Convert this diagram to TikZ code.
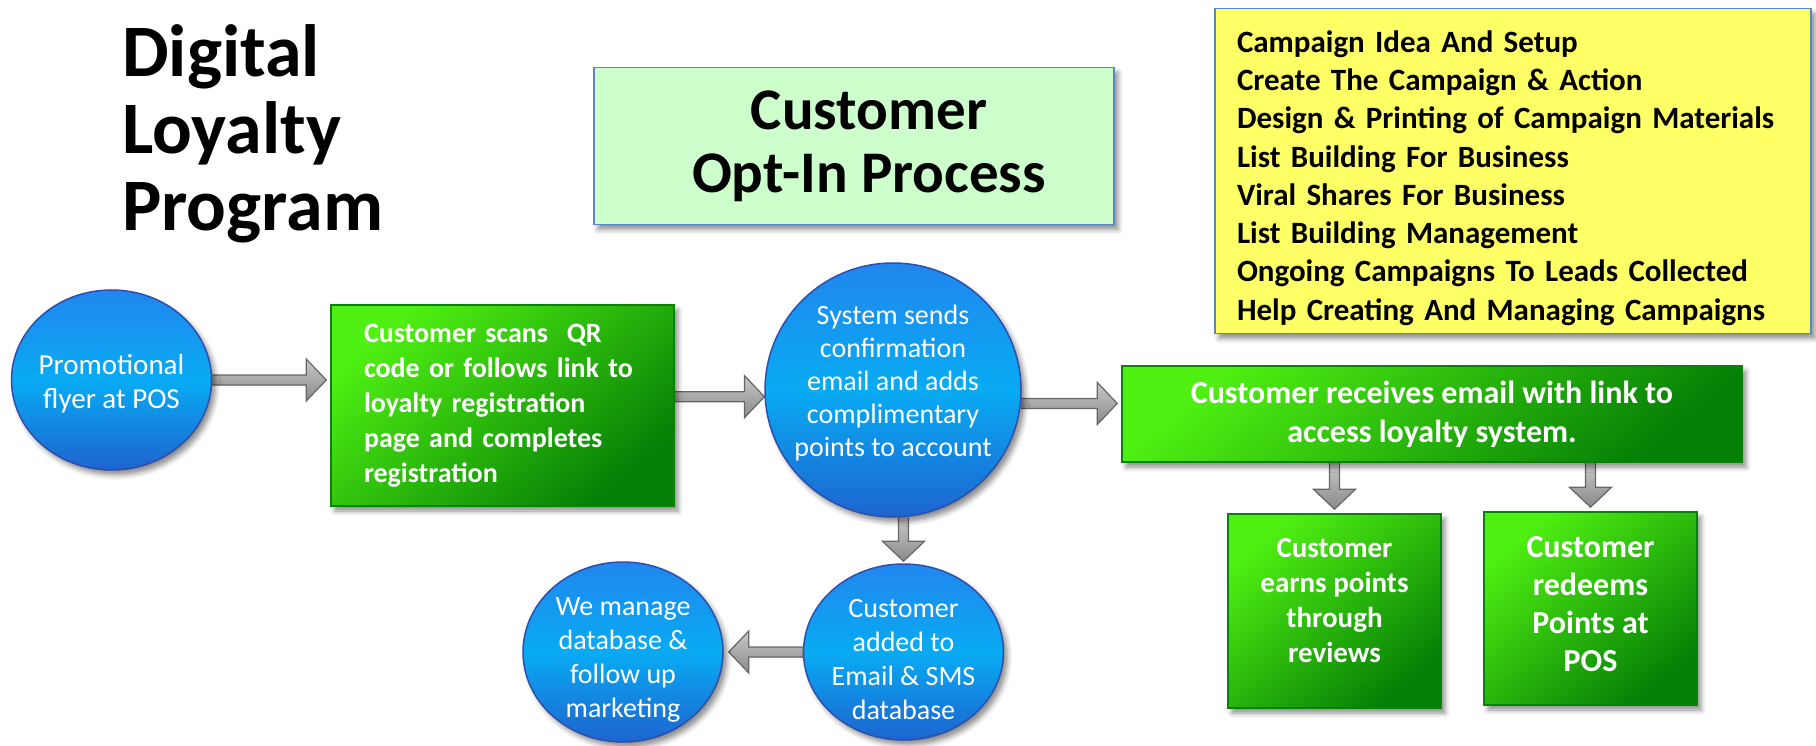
\documentclass[tikz,border=0pt]{standalone}
\usepackage{fontspec}
\setmainfont{Carlito}
\usetikzlibrary{shapes.geometric,calc,shadows.blur,backgrounds}

\definecolor{greenlite}{HTML}{4FF012}
\definecolor{greendark}{HTML}{067F06}
\definecolor{greenedge}{HTML}{0A820A}
\definecolor{bluetop}{HTML}{2186EE}
\definecolor{bluemid}{HTML}{08ABF3}
\definecolor{bluebot}{HTML}{1E64D0}
\definecolor{blueedge}{HTML}{2D4FAE}
\definecolor{titlefill}{HTML}{CCFFCC}
\definecolor{listfill}{HTML}{FFFF66}
\definecolor{frameblue}{HTML}{5A86C4}
\definecolor{arrowtop}{HTML}{C8C8C8}
\definecolor{arrowbot}{HTML}{8A8A8A}
\definecolor{arrowedge}{HTML}{666666}

\newcommand{\blockarrow}[2]{%
  \coordinate (ba) at (#1);
  \coordinate (bb) at (#2);
  \coordinate (bh) at ($(bb)!20pt!(ba)$);
  \filldraw[blockarrow] ($(ba)!5pt!90:(bb)$) -- ($(bh)!5pt!90:(bb)$) -- ($(bh)!21pt!90:(bb)$) -- (bb)
    -- ($(bh)!21pt!-90:(bb)$) -- ($(bh)!5pt!-90:(bb)$) -- ($(ba)!5pt!-90:(bb)$);
}

\begin{document}
\begin{tikzpicture}[x=1pt,y=-1pt,
    softshadow/.style={blur shadow={shadow xshift=4pt, shadow yshift=-5pt, shadow blur radius=5pt, shadow opacity=45}},
    nohyph/.style={execute at begin node={\hyphenpenalty=10000\relax}},
    greenbox/.style={rectangle, draw=greenedge, line width=1.5pt, top color=greenlite, bottom color=greendark, shading angle=40, text=white, align=center, inner sep=0pt, softshadow},
    greentext/.style={text=white, align=center, font=\fontsize{29}{35}\selectfont\bfseries},
    bluecircle/.style={ellipse, draw=blueedge, line width=1.5pt, top color=bluetop, bottom color=bluebot, middle color=bluemid, inner sep=0pt, softshadow},
    circletext/.style={text=white, align=center, font=\fontsize{28}{34}\selectfont},
    framebox/.style={rectangle, draw=frameblue, line width=1.5pt, inner sep=0pt, softshadow},
    blockarrow/.style={draw=arrowedge, line width=1.2pt, line join=miter, top color=arrowtop, bottom color=arrowbot}]
\useasboundingbox (0,0) rectangle (1816,746);

\node[anchor=base west, align=left, inner sep=0pt, font=\fontsize{74}{77}\selectfont\bfseries] (title) at (122,231) {Digital\\Loyalty\\Program};

\node[framebox, fill=titlefill, minimum width=520, minimum height=157, label={[align=center, xshift=15pt, font=\fontsize{59}{63}\selectfont\bfseries]center:{Customer\\Opt-In Process}}] (optin) at (854,146) {};

\node[framebox, fill=listfill, minimum width=596, minimum height=325, label={[text width=552, align=left, nohyph, yshift=-7pt, font=\fontsize{31}{38.3}\selectfont\bfseries]center:{Campaign Idea And Setup\\Create The Campaign \& Action\\Design \& Printing of Campaign Materials\\List Building For Business\\Viral Shares For Business\\List Building Management\\Ongoing Campaigns To Leads Collected\\Help Creating And Managing Campaigns}}] (tasks) at (1513,171) {};

\node[bluecircle, minimum width=200, minimum height=180, label={[circletext, font=\fontsize{29}{34}\selectfont, yshift=-4pt]center:{Promotional\\flyer at POS}}] (flyer) at (111.5,380) {};

\node[greenbox, text width=277, inner xsep=33pt, minimum height=201, align=left, nohyph, font=\fontsize{28}{35}\selectfont\bfseries] (scan) at (502.5,405.5) {Customer scans\ \ QR\\code or follows link to\\loyalty registration\\page and completes\\registration};

\node[bluecircle, minimum width=256, minimum height=254, label={[circletext, font=\fontsize{28}{33}\selectfont, yshift=7pt]center:{System sends\\confirmation\\email and adds\\complimentary\\points to account}}] (sys) at (893,390) {};

\node[greenbox, minimum width=620, minimum height=96, font=\fontsize{32}{39}\selectfont\bfseries] (recv) at (1432,414) {Customer receives email with link to\\access loyalty system.};

\node[greenbox, minimum width=213, minimum height=194, label={[greentext, yshift=10pt]center:{Customer\\earns points\\through\\reviews}}] (earn) at (1334.5,611) {};

\node[greenbox, minimum width=213, minimum height=193, label={[greentext, font=\fontsize{32}{38}\selectfont\bfseries, yshift=4pt]center:{Customer\\redeems\\Points at\\POS}}] (redeem) at (1590.5,608.5) {};

\node[bluecircle, minimum width=200, minimum height=176, label={[circletext, yshift=-8pt]center:{Customer\\added to\\Email \& SMS\\database}}] (db) at (903.5,652) {};

\node[bluecircle, minimum width=200, minimum height=180, label={[circletext, yshift=-8pt]center:{We manage\\database \&\\follow up\\marketing}}] (mgmt) at (623,652) {};

\begin{pgfonlayer}{background}
\blockarrow{flyer.east}{$(flyer.east -| scan.west)+(-4,0)$}
\blockarrow{scan.east |- sys.183}{sys.183}
\blockarrow{sys.354}{$(sys.354 -| recv.west)+(-4,0)$}
\blockarrow{sys.south -| db.north}{$(db.north)+(0,-2)$}
\blockarrow{db.west}{$(mgmt.east)+(5,0)$}
\blockarrow{recv.south -| earn.north}{$(earn.north)+(0,-4)$}
\blockarrow{recv.south -| redeem.north}{$(redeem.north)+(0,-4)$}
\end{pgfonlayer}
\end{tikzpicture}
\end{document}
